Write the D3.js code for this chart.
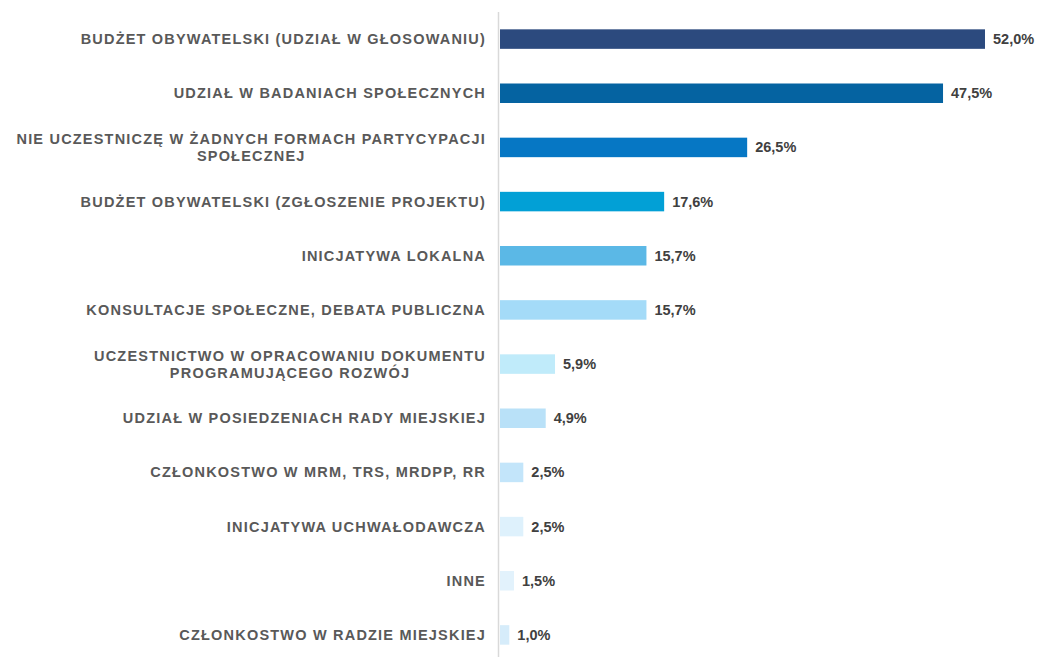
<!DOCTYPE html>
<html>
<head>
<meta charset="utf-8">
<script src="https://cdn.jsdelivr.net/npm/d3@7"></script>
<style>
  body { margin: 0; background: #fff; }
  svg { display: block; }
</style>
</head>
<body>
<div id="chart"></div>
<script>
const categories = [
  ["BUDŻET OBYWATELSKI (UDZIAŁ W GŁOSOWANIU)"],
  ["UDZIAŁ W BADANIACH SPOŁECZNYCH"],
  ["NIE UCZESTNICZĘ W ŻADNYCH FORMACH PARTYCYPACJI", "SPOŁECZNEJ"],
  ["BUDŻET OBYWATELSKI (ZGŁOSZENIE PROJEKTU)"],
  ["INICJATYWA LOKALNA"],
  ["KONSULTACJE SPOŁECZNE, DEBATA PUBLICZNA"],
  ["UCZESTNICTWO W OPRACOWANIU DOKUMENTU", "PROGRAMUJĄCEGO ROZWÓJ"],
  ["UDZIAŁ W POSIEDZENIACH RADY MIEJSKIEJ"],
  ["CZŁONKOSTWO W MRM, TRS, MRDPP, RR"],
  ["INICJATYWA UCHWAŁODAWCZA"],
  ["INNE"],
  ["CZŁONKOSTWO W RADZIE MIEJSKIEJ"]
];
const values = [52.0, 47.5, 26.5, 17.6, 15.7, 15.7, 5.9, 4.9, 2.5, 2.5, 1.5, 1.0];
const colors = ["#2c4a7e", "#0563a1", "#0677c4", "#02a0d6", "#5bb8e6", "#a4dbf8",
                "#c0ebfa", "#b9e1f8", "#c3e5fa", "#def1fc", "#e2f2fc", "#d6ecfa"];

const width = 1041, height = 657;
const margin = { top: 12, right: 56, bottom: -5, left: 500 };

const svg = d3.select("#chart").append("svg")
  .attr("width", width)
  .attr("height", height);

const x = d3.scaleLinear().domain([0, 52]).range([margin.left, width - margin.right]);
const y = d3.scaleBand()
  .domain(d3.range(values.length))
  .range([margin.top, height - margin.bottom])
  .paddingInner(0.64)
  .paddingOuter(0.32);

// vertical axis line
svg.append("line")
  .attr("x1", margin.left - 1.5).attr("x2", margin.left - 1.5)
  .attr("y1", margin.top).attr("y2", height)
  .attr("stroke", "#d9d9d9")
  .attr("stroke-width", 1.5);

svg.selectAll("rect.bar")
  .data(values)
  .join("rect")
  .attr("class", "bar")
  .attr("x", x(0))
  .attr("y", (d, i) => y(i))
  .attr("width", d => x(d) - x(0))
  .attr("height", y.bandwidth())
  .attr("fill", (d, i) => colors[i]);

svg.selectAll("text.val")
  .data(values)
  .join("text")
  .attr("class", "val")
  .attr("x", d => x(d) + 8)
  .attr("y", (d, i) => y(i) + y.bandwidth() / 2)
  .attr("dy", "0.35em")
  .style("font-family", "Liberation Sans, Arial, sans-serif")
  .style("font-weight", "bold")
  .style("font-size", "14.5px")
  .attr("fill", "#404040")
  .text(d => d.toFixed(1).replace(".", ",") + "%");

// category labels, right-aligned; second line centred under the first
const labelRight = margin.left - 14;
const lineH = 17;
function labelStyle(t) {
  t.style("font-family", "Liberation Sans, Arial, sans-serif")
    .style("font-weight", "bold")
    .style("font-size", "14.5px")
    .style("letter-spacing", "1.2px")
    .attr("fill", "#595959");
}
categories.forEach((lines, i) => {
  const cy = y(i) + y.bandwidth() / 2;
  const y0 = cy - (lines.length - 1) * lineH / 2;
  const g = svg.append("g");
  const first = g.append("text")
    .attr("x", labelRight)
    .attr("y", y0)
    .attr("dy", "0.35em")
    .attr("text-anchor", "end")
    .call(labelStyle)
    .text(lines[0]);
  if (lines.length > 1) {
    const w = first.node().getComputedTextLength();
    g.append("text")
      .attr("x", labelRight - w / 2)
      .attr("y", y0 + lineH)
      .attr("dy", "0.35em")
      .attr("text-anchor", "middle")
      .call(labelStyle)
      .text(lines[1]);
  }
});
</script>
</body>
</html>
